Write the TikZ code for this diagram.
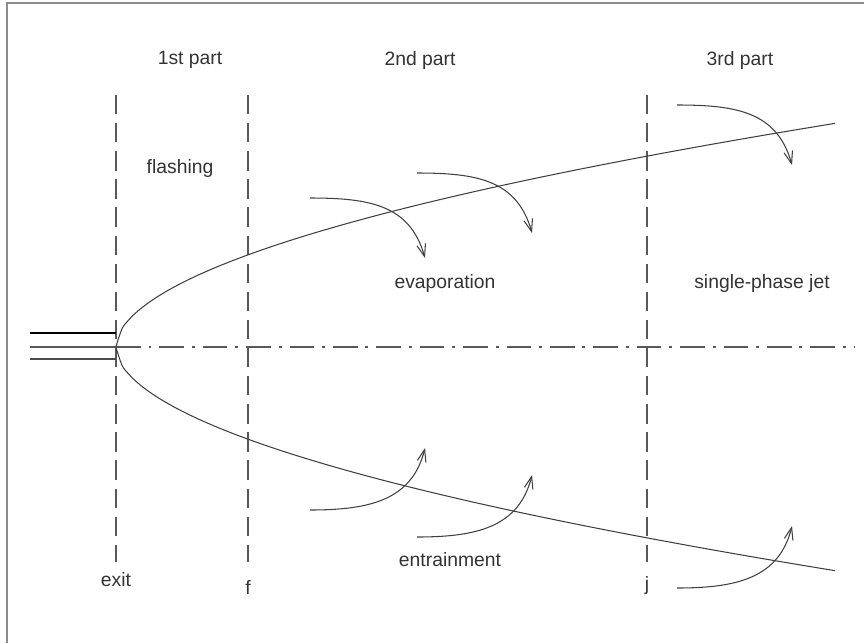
\documentclass[tikz,border=0pt]{standalone}
\usepackage{fontspec}
\setmainfont{Liberation Sans}
\usetikzlibrary{arrows.meta}
\tikzset{
    jet line/.style={black!75, line width=0.6pt},
    section line/.style={black!65, line width=0.6pt, dash pattern=on 11pt off 5pt},
    axis line/.style={black!65, line width=0.6pt, dash pattern=on 14pt off 4.5pt on 1.7pt off 4.5pt},
    flow arrow/.style={black!75, line width=0.6pt, -{Straight Barb[length=7pt,width=5pt]}},
    label text/.style={text=black!80, font=\fontsize{11}{13}\selectfont, inner sep=1pt}
}
\begin{document}
\begin{tikzpicture}[x=0.02cm, y=-0.02cm]
    \useasboundingbox (0,0) rectangle (864,643);
    % frame
    \draw[black!45, line width=1.2pt] (7,643) -- (7,3) -- (864,3);

    \coordinate (E) at (116,347);

    % section borders
    \draw[section line] (116,95) -- (116,562);
    \draw[section line] (248,95) -- (248,562);
    \draw[section line] (647,95) -- (647,562);
    \draw[axis line] (116,347) -- (855,347);

    % nozzle
    \draw[black, line width=1pt] (30,333) -- (116,333);
    \draw[black!65, line width=0.6pt] (30,347) -- (E);
    \draw[black!70, line width=0.7pt] (30,359) -- (116,359);

    % jet boundary
    \draw[jet line] plot[domain=0.01:719, samples=120, smooth] ({116+\x}, {347-7.17*(\x)^0.523});
    \draw[jet line] plot[domain=0.01:719, samples=120, smooth] ({116+\x}, {347+7.17*(\x)^0.523});

    % evaporation arrows
    \foreach \dx/\dy in {0/0, 107/-25, 367/-93}
        \draw[flow arrow] (310+\dx,198+\dy) .. controls (370+\dx,198+\dy) and (410+\dx,205+\dy) .. (425+\dx,258+\dy);
    % entrainment arrows
    \foreach \dx/\dy in {0/0, 107/27, 367/78}
        \draw[flow arrow] (310+\dx,510+\dy) .. controls (370+\dx,510+\dy) and (412+\dx,500+\dy) .. (425+\dx,448+\dy);

    % texts
    \node[label text] (part1) at (190,60) {1st part};
    \node[label text] (part2) at (420,60) {2nd part};
    \node[label text] (part3) at (740,60) {3rd part};
    \node[label text] (flash) at (180,168) {flashing};
    \node[label text] (evap) at (445,283) {evaporation};
    \node[label text] (single) at (762,283) {single-phase jet};
    \node[label text] (entr) at (450,560) {entrainment};
    \node[label text] (exit) at (116,580) {exit};
    \node[label text] (f) at (248,587) {f};
    \node[label text] (j) at (647,585) {j};
\end{tikzpicture}
\end{document}
